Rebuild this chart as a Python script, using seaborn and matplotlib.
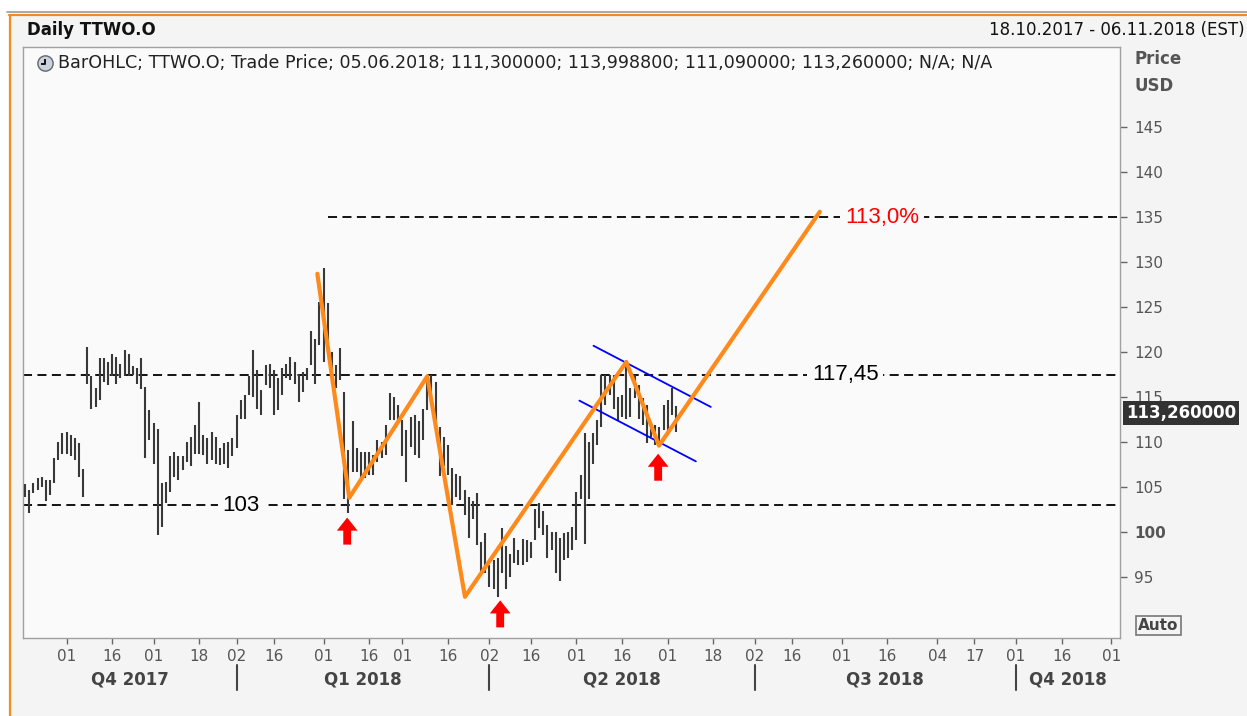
"""Daily TTWO.O OHLC chart with zigzag pattern, channel and levels."""
import numpy as np, pandas as pd
import matplotlib; matplotlib.use('Agg')
import matplotlib.pyplot as plt
import matplotlib.transforms as mtrans
from matplotlib.patches import Rectangle
from matplotlib.lines import Line2D
from matplotlib.path import Path
import seaborn as sns

START, END = '2017-10-18', '2018-11-06'
HOLIDAYS = ['2017-11-23', '2017-12-25', '2018-01-01', '2018-01-15', '2018-02-19',
            '2018-03-30', '2018-05-28', '2018-07-04', '2018-09-03']

# daily high / low, one per trading day from 18.10.2017 to 05.06.2018
bar_high = [105.3, 104.7, 105.4, 106.0, 106.1, 105.8, 105.8, 108.2, 110.0, 111.0,
            111.1, 110.8, 110.4, 109.9, 107.0, 120.6, 117.3, 116.0, 119.3, 119.3,
            118.9, 119.8, 119.5, 118.7, 120.2, 119.8, 118.5, 118.2, 119.3, 116.1,
            113.6, 112.1, 111.5, 105.4, 105.6, 108.4, 108.9, 108.4, 108.4, 110.0,
            110.6, 111.9, 114.5, 110.8, 110.4, 111.1, 110.6, 109.3, 109.9, 110.0,
            110.4, 113.0, 114.7, 115.2, 117.3, 120.2, 118.0, 115.8, 118.6, 118.7,
            118.0, 117.1, 118.2, 118.7, 119.5, 118.9, 117.6, 117.8, 118.2, 122.3,
            121.5, 125.6, 129.3, 125.4, 120.0, 118.6, 120.4, 115.6, 109.1, 112.3,
            109.3, 108.9, 108.9, 108.9, 108.6, 110.2, 110.0, 111.9, 115.4, 115.0,
            114.1, 112.4, 111.3, 112.8, 113.0, 112.3, 113.7, 117.1, 117.5, 116.7,
            111.7, 110.6, 109.7, 107.1, 106.5, 106.2, 104.7, 103.9, 103.4, 104.3,
            98.9, 99.9, 96.3, 96.9, 97.1, 100.4, 98.4, 97.6, 99.3, 98.0,
            99.2, 99.1, 98.9, 102.6, 103.2, 102.3, 100.8, 100.0, 100.0, 99.3,
            99.9, 100.0, 100.6, 104.5, 106.3, 111.0, 110.0, 111.0, 112.4, 117.4,
            117.4, 117.4, 117.4, 115.0, 115.2, 118.9, 116.0, 117.4, 116.3, 114.9,
            114.1, 112.1, 111.9, 111.7, 114.1, 114.7, 116.0, 114.0]
bar_low = [103.9, 102.1, 104.3, 104.7, 105.0, 103.4, 104.1, 105.4, 108.0, 108.7,
           108.7, 108.4, 108.0, 106.1, 103.9, 116.5, 113.7, 113.9, 114.7, 116.7,
           116.3, 117.3, 116.5, 117.1, 117.3, 117.3, 117.4, 116.5, 115.9, 108.2,
           110.2, 107.6, 99.7, 100.6, 103.2, 104.5, 106.1, 105.8, 106.9, 107.8,
           107.3, 108.7, 108.7, 108.6, 107.6, 108.0, 107.6, 107.4, 107.6, 107.1,
           108.4, 109.3, 112.6, 112.6, 115.2, 115.0, 113.7, 113.0, 116.3, 116.0,
           113.0, 113.6, 115.2, 117.1, 116.9, 116.5, 114.5, 115.6, 116.9, 118.6,
           116.5, 120.8, 118.9, 121.0, 116.5, 116.0, 116.9, 103.7, 102.1, 106.7,
           106.7, 106.0, 106.0, 106.3, 106.3, 107.8, 108.2, 108.6, 112.4, 112.4,
           112.3, 108.4, 105.6, 109.5, 108.6, 108.2, 110.2, 113.6, 114.5, 111.7,
           106.2, 107.3, 106.3, 103.0, 103.9, 103.6, 101.9, 99.3, 101.5, 98.6,
           95.6, 95.4, 93.9, 93.7, 92.8, 95.4, 93.7, 95.0, 96.6, 96.3,
           96.3, 96.7, 97.1, 99.1, 100.4, 99.7, 97.1, 98.0, 95.4, 94.5,
           96.9, 97.1, 98.0, 99.1, 103.7, 98.7, 103.7, 107.6, 109.7, 111.7,
           114.1, 115.2, 113.7, 112.3, 112.8, 112.6, 112.8, 114.9, 112.6, 111.9,
           109.9, 110.6, 109.7, 109.9, 111.3, 110.8, 113.0, 111.09]

legend_text = ('BarOHLC; TTWO.O; Trade Price; 05.06.2018; 111,300000; 113,998800; '
               '111,090000; 113,260000; N/A; N/A')
last_price = 113.26

tick_dates = ['2017-11-01', '2017-11-16', '2017-12-01', '2017-12-18', '2018-01-02',
              '2018-01-16', '2018-02-01', '2018-02-16', '2018-03-01', '2018-03-16',
              '2018-04-02', '2018-04-16', '2018-05-01', '2018-05-16', '2018-06-01',
              '2018-06-18', '2018-07-02', '2018-07-16', '2018-08-01', '2018-08-16',
              '2018-09-04', '2018-09-17', '2018-10-01', '2018-10-16', '2018-11-01']
quarter_names = ['Q4 2017', 'Q1 2018', 'Q2 2018', 'Q3 2018', 'Q4 2018']
quarter_starts = ['2018-01-02', '2018-04-02', '2018-07-02', '2018-10-01']
y_ticks = [95, 100, 105, 110, 115, 120, 125, 130, 135, 140, 145]

# zigzag (trading-day position, price)
zz_pos = [70.5, 78.2, 97.0, 106.1, 145.0, 152.9, 191.7]
zz_price = [128.7, 103.8, 117.3, 92.8, 118.9, 109.6, 135.6]
# flag channel
chan_up_pos, chan_up = [137.1, 165.4], [120.7, 113.9]
chan_lo_pos, chan_lo = [133.7, 161.8], [114.6, 107.85]
# red arrows (position, tip price)
arrow_pos = [77.7, 114.6, 152.7]
arrow_tip = [101.6, 92.4, 108.7]
# horizontal levels
levels = [117.45, 103.0, 135.0]
level_labels = ['117,45', '103', '113,0%']
level_start = [None, None, 73.1]

days = pd.bdate_range(START, END, freq='C', holidays=HOLIDAYS)
pos = {d: i for i, d in enumerate(days)}
XL = (-0.5, 264.1)
YL = (88.22, 153.9)

sns.set_theme(style='white')
plt.rcParams['font.family'] = ['DejaVu Sans']

W, H = 1247, 716
fig = plt.figure(figsize=(W / 100, H / 100), dpi=100)
fig.patch.set_facecolor('white')
fig.add_artist(Rectangle((9 / W, 0), 1, 1 - 14 / H, transform=fig.transFigure,
                         fc='#f4f4f4', ec='none', zorder=-5))
fig.add_artist(Line2D([7 / W, 1], [1 - 12 / H] * 2, transform=fig.transFigure, color='#9a9a9a', lw=1.2))
fig.add_artist(Line2D([9 / W, 1], [1 - 14.5 / H] * 2, transform=fig.transFigure, color='#f28c1e', lw=1.6))
fig.add_artist(Line2D([9.5 / W] * 2, [0, 1 - 14.5 / H], transform=fig.transFigure, color='#f28c1e', lw=1.6))

ax = fig.add_axes([23 / W, 1 - 638 / H, 1097 / W, 591 / H])
ax.set_facecolor('#fafafa')
ax.set_xlim(*XL); ax.set_ylim(*YL)

# OHLC bars (high-low)
xb = np.arange(len(bar_high))
ax.vlines(xb, bar_low, bar_high, color='#383838', lw=1.5, zorder=3)

# levels
for lv, lab, st in zip(levels, level_labels, level_start):
    x0 = XL[0] if st is None else st
    ax.plot([x0, XL[1]], [lv, lv], color='black', lw=1.3, dashes=(5, 3), zorder=2)
lab_pos = [197.8, 52.1, 206.7]
lab_col = ['black', 'black', '#ff0000']
for lv, lab, lp, c in zip(levels, level_labels, lab_pos, lab_col):
    ax.text(lp, lv, lab, ha='center', va='center', fontsize=16, color=c,
            family='Liberation Sans', zorder=6,
            bbox=dict(fc='#fafafa', ec='none', pad=3.5))

# zigzag + channel
sns.lineplot(x=zz_pos, y=zz_price, sort=False, color='#ff8a1c', lw=3.0, ax=ax, zorder=5)
sns.lineplot(x=chan_up_pos, y=chan_up, sort=False, color='#0000ff', lw=1.3, ax=ax, zorder=4)
sns.lineplot(x=chan_lo_pos, y=chan_lo, sort=False, color='#0000ff', lw=1.3, ax=ax, zorder=4)

for ap, at in zip(arrow_pos, arrow_tip):
    ax.arrow(ap, at - 3.0, 0, 3.0, width=1.9, head_width=5.0, head_length=1.45,
             length_includes_head=True, fc='#ff0000', ec='none', zorder=7)

# axes styling
for s in ax.spines.values():
    s.set_color('#a0a0a0'); s.set_linewidth(1.0)
ax.yaxis.tick_right()
ax.set_yticks(y_ticks)
ax.set_yticklabels([str(v) for v in y_ticks])
ax.tick_params(axis='y', direction='out', length=5, width=1, color='#666666', pad=5,
               labelsize=11, labelcolor='#555555', right=True, left=False)
for t in ax.get_yticklabels():
    if t.get_text() == '100':
        t.set_fontweight('bold')
tpos = [pos[pd.Timestamp(d)] for d in tick_dates]
ax.set_xticks(tpos)
ax.set_xticklabels([pd.Timestamp(d).strftime('%d') for d in tick_dates])
ax.tick_params(axis='x', direction='out', length=4, width=1, color='#666666', pad=4,
               labelsize=11, labelcolor='#555555', bottom=True)
ax.set_xlabel(''); ax.set_ylabel('')

# quarter labels and separators
bx = mtrans.blended_transform_factory(ax.transData, ax.transAxes)
qs = [pos[pd.Timestamp(d)] for d in quarter_starts]
bounds = [XL[0]] + qs + [XL[1]]
for name, a, b in zip(quarter_names, bounds[:-1], bounds[1:]):
    ax.text((a + b) / 2, -0.071, name, transform=bx, ha='center', va='center',
            fontsize=12, fontweight='bold', color='#444444')
for q in qs:
    ax.plot([q, q], [-0.046, -0.088], transform=bx, color='#444444', lw=1.5, clip_on=False)

# legend row with clock icon
ax.plot([0.02], [0.973], transform=ax.transAxes, marker='o', ms=11, mfc='#c9d3df',
        mec='#666666', mew=1, clip_on=False, zorder=8)
hands = Path([(0, 0.8), (0, 0), (-0.7, 0)], [Path.MOVETO, Path.LINETO, Path.LINETO])
ax.plot([0.0205], [0.972], transform=ax.transAxes, marker=hands, ms=7, mec='#111111',
        mew=1.4, fillstyle='none', clip_on=False, zorder=9)
ax.text(0.0319, 0.973, legend_text, transform=ax.transAxes, ha='left', va='center',
        fontsize=12.6, color='#222222')

# right side labels
by = mtrans.blended_transform_factory(ax.transAxes, ax.transData)
ax.text(1.0055, last_price, f'{last_price:.6f}'.replace('.', ','), transform=by,
        ha='left', va='center', fontsize=12, fontweight='bold', color='white',
        bbox=dict(fc='#333333', ec='none', pad=2))
ax.text(1.0165, 89.6, 'Auto', transform=by, ha='left', va='center', fontsize=11,
        fontweight='bold', color='#444444',
        bbox=dict(fc='#f4f4f4', ec='#777777', lw=1.2, pad=1.5))
fig.text(1135 / W, 1 - 59 / H, 'Price', ha='left', va='center', fontsize=12,
         fontweight='bold', color='#555555')
fig.text(1135 / W, 1 - 86 / H, 'USD', ha='left', va='center', fontsize=12,
         fontweight='bold', color='#555555')

# header
fig.text(27 / W, 1 - 30 / H, 'Daily TTWO.O', ha='left', va='center', fontsize=12,
         fontweight='bold', color='#111111')
fig.text(1245 / W, 1 - 30 / H, '18.10.2017 - 06.11.2018 (EST)', ha='right', va='center',
         fontsize=12, color='#111111')

fig.savefig('out.png', dpi=100)
